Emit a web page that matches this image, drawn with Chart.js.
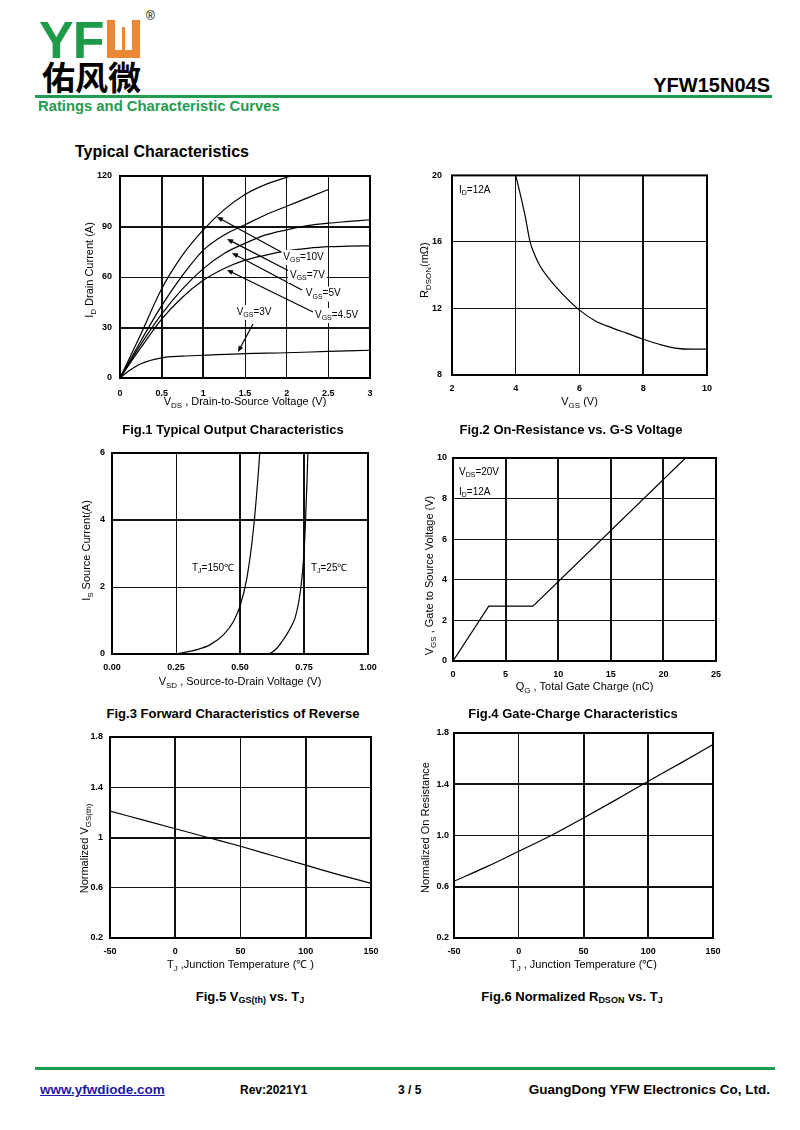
<!DOCTYPE html>
<html>
<head>
<meta charset="utf-8">
<title>YFW15N04S Typical Characteristics</title>
<script src="https://cdn.jsdelivr.net/npm/chart.js@4.4.1/dist/chart.umd.min.js"></script>
<style>
  body { margin:0; width:800px; height:1130px; position:relative; overflow:hidden; background:#fff;
         font-family:"Liberation Sans", Arial, sans-serif; color:#000; }
  .abs { position:absolute; white-space:nowrap; }
  canvas { position:absolute; }
  .cap { position:absolute; font-weight:bold; font-size:13px; line-height:16px; transform:translate(-50%,-50%); white-space:nowrap; }
  .cap sub { font-size:9px; vertical-align:-2px; line-height:0; }
  .foot { position:absolute; top:1082px; font-weight:bold; font-size:13.5px; line-height:16px; white-space:nowrap; }
</style>
</head>
<body>
<!-- header -->
<div class="abs" style="left:39px;top:14px;font-weight:bold;font-size:52px;line-height:52px;color:#1e9a48;letter-spacing:-1px">YF</div>
<div class="abs" style="left:107px;top:20px;width:33px;height:38px;background:#ec8736"></div>
<div class="abs" style="left:115px;top:20px;width:17px;height:30px;background:#fff"></div>
<div class="abs" style="left:122px;top:27px;width:3px;height:23px;background:#ec8736"></div>
<div class="abs" style="left:146px;top:9px;font-size:12px">®</div>
<div class="abs" style="left:42px;top:60px;font-family:'Noto Sans CJK SC';font-weight:bold;font-size:33px;line-height:33px">佑风微</div>
<div class="abs" style="right:30px;top:74px;font-weight:bold;font-size:20px;line-height:22px">YFW15N04S</div>
<div class="abs" style="left:35px;top:95px;width:737px;height:3px;background:#1f9d4f"></div>
<div class="abs" style="left:38px;top:98px;font-weight:bold;font-size:14.8px;line-height:16px;color:#1f9d4f">Ratings and Characteristic Curves</div>
<div class="abs" style="left:75px;top:143px;font-weight:bold;font-size:16px;line-height:18px">Typical Characteristics</div>

<canvas id="c1"></canvas>
<canvas id="c2"></canvas>
<canvas id="c3"></canvas>
<canvas id="c4"></canvas>
<canvas id="c5"></canvas>
<canvas id="c6"></canvas>

<div class="cap" style="left:233px;top:430px">Fig.1 Typical Output Characteristics</div>
<div class="cap" style="left:571px;top:430px">Fig.2 On-Resistance vs. G-S Voltage</div>
<div class="cap" style="left:233px;top:714px">Fig.3 Forward Characteristics of Reverse</div>
<div class="cap" style="left:573px;top:714px">Fig.4 Gate-Charge Characteristics</div>
<div class="cap" style="left:250px;top:997px">Fig.5 V<sub>GS(th)</sub> vs. T<sub>J</sub></div>
<div class="cap" style="left:572px;top:997px">Fig.6 Normalized R<sub>DSON</sub> vs. T<sub>J</sub></div>

<!-- footer -->
<div class="abs" style="left:35px;top:1067px;width:740px;height:3px;background:#1f9d4f"></div>
<div class="foot" style="left:40px;color:#1a1aa6;text-decoration:underline">www.yfwdiode.com</div>
<div class="foot" style="left:240px;font-size:12px">Rev:2021Y1</div>
<div class="foot" style="left:398px;font-size:12px">3 / 5</div>
<div class="foot" style="right:30px">GuangDong YFW Electronics Co, Ltd.</div>

<script>
const FONT = '"Liberation Sans", Arial, sans-serif';
Chart.defaults.font.family = FONT;
Chart.defaults.color = '#000';

// Fig.1 Typical Output Characteristics (ID vs VDS, one curve per VGS)
const fig1XTicks = ['0', '0.5', '1', '1.5', '2', '2.5', '3'];
const fig1YTicks = ['0', '30', '60', '90', '120'];
const vgs10Vds = [0, 0.25, 0.5, 0.75, 1, 1.25, 1.5, 1.75, 2.05];
const vgs10Id  = [0, 26, 53, 73, 88, 100, 109, 115, 120];
const vgs7Vds  = [0, 0.25, 0.5, 0.75, 1, 1.25, 1.5, 1.75, 2, 2.25, 2.5];
const vgs7Id   = [0, 22, 43, 61, 76, 85, 91, 97, 102, 107, 112];
const vgs5Vds  = [0, 0.25, 0.5, 0.75, 1, 1.25, 1.5, 1.75, 2, 2.25, 2.5, 2.75, 3];
const vgs5Id   = [0, 20, 38, 53, 65, 74, 80, 85, 88, 90.5, 92, 93, 94];
const vgs45Vds = [0, 0.25, 0.5, 0.75, 1, 1.25, 1.5, 1.75, 2, 2.25, 2.5, 2.75, 3];
const vgs45Id  = [0, 18, 35, 48, 58, 65, 70, 73, 75.5, 77, 78, 78.3, 78.5];
const vgs3Vds  = [0, 0.1, 0.25, 0.5, 0.75, 1, 1.5, 2, 2.5, 3];
const vgs3Id   = [0, 4, 8.5, 12, 13, 13.5, 14.5, 15, 15.8, 16.5];

// Fig.2 On-Resistance vs. G-S Voltage
const fig2XTicks = ['2', '4', '6', '8', '10'];
const fig2YTicks = ['8', '12', '16', '20'];
const rdsVgs = [4.0, 4.1, 4.2, 4.3, 4.45, 4.6, 4.75, 5, 5.5, 6, 6.5, 7, 7.5, 8, 8.5, 9, 9.5, 10];
const rdsMohm = [20, 19.2, 18.4, 17.5, 16, 15.2, 14.6, 13.9, 12.8, 11.9, 11.25, 10.85, 10.5, 10.15, 9.85, 9.62, 9.55, 9.55];

// Fig.3 Forward Characteristics of Reverse diode
const fig3XTicks = ['0.00', '0.25', '0.50', '0.75', '1.00'];
const fig3YTicks = ['0', '2', '4', '6'];
const tj150Vsd = [0.25, 0.27, 0.332, 0.384, 0.436, 0.475, 0.501, 0.527, 0.553, 0.573, 0.577];
const tj150Is  = [0, 0.03, 0.13, 0.28, 0.58, 0.98, 1.45, 2.27, 3.76, 5.55, 6];
const tj25Vsd  = [0.6, 0.618, 0.645, 0.665, 0.684, 0.7, 0.716, 0.728, 0.738, 0.749, 0.755, 0.762, 0.765];
const tj25Is   = [0, 0.02, 0.18, 0.38, 0.6, 0.82, 1.1, 1.5, 2.0, 2.9, 3.8, 5.2, 6];

// Fig.4 Gate-Charge Characteristics
const fig4XTicks = ['0', '5', '10', '15', '20', '25'];
const fig4YTicks = ['0', '2', '4', '6', '8', '10'];
const gateQ  = [0, 3.4, 7.6, 22.1];
const gateVg = [0, 2.7, 2.7, 10];

// Fig.5 / Fig.6 vs junction temperature
const tempXTicks = ['-50', '0', '50', '100', '150'];
const fig5YTicks = ['0.2', '0.6', '1', '1.4', '1.8'];
const fig6YTicks = ['0.2', '0.6', '1.0', '1.4', '1.8'];
const tjC   = [-50, -25, 0, 25, 50, 75, 100, 125, 150];
const vthN  = [1.21, 1.14, 1.07, 1.0, 0.93, 0.855, 0.78, 0.705, 0.635];
const rdsN  = [0.643, 0.755, 0.877, 1.0, 1.137, 1.278, 1.424, 1.565, 1.71];

function pts(xs, ys) {
  return xs.map((x, i) => ({ x: x, y: ys[i] }));
}

// text with subscripts: parts starting with "_" are subscripts
function drawRich(ctx, parts, x, y, size, align, bg) {
  const segs = parts.map(p => {
    const sub = p[0] === '_';
    const t = sub ? p.slice(1) : p;
    const fs = sub ? Math.round(size * 0.7) : size;
    ctx.font = fs + 'px ' + FONT;
    return { t: t, sub: sub, fs: fs, w: ctx.measureText(t).width };
  });
  const total = segs.reduce((a, s) => a + s.w, 0);
  let cx = align === 'center' ? x - total / 2 : x;
  if (bg) {
    ctx.fillStyle = '#fff';
    ctx.fillRect(cx - 2, y - size * 0.7, total + 4, size * 1.5);
  }
  ctx.fillStyle = '#000';
  ctx.textBaseline = 'middle';
  ctx.textAlign = 'left';
  segs.forEach(s => {
    ctx.font = s.fs + 'px ' + FONT;
    ctx.fillText(s.t, cx, y + (s.sub ? size * 0.3 : 0));
    cx += s.w;
  });
}

function drawArrow(ctx, x1, y1, x2, y2) {
  const a = Math.atan2(y2 - y1, x2 - x1), L = 6, W = 2.5;
  ctx.strokeStyle = '#000';
  ctx.lineWidth = 1.2;
  ctx.beginPath();
  ctx.moveTo(x1, y1);
  ctx.lineTo(x2 - Math.cos(a) * L * 0.8, y2 - Math.sin(a) * L * 0.8);
  ctx.stroke();
  ctx.beginPath();
  ctx.moveTo(x2, y2);
  ctx.lineTo(x2 - L * Math.cos(a) + W * Math.sin(a), y2 - L * Math.sin(a) - W * Math.cos(a));
  ctx.lineTo(x2 - L * Math.cos(a) - W * Math.sin(a), y2 - L * Math.sin(a) + W * Math.cos(a));
  ctx.closePath();
  ctx.fillStyle = '#000';
  ctx.fill();
}

function axis(a, isX) {
  return {
    type: 'linear',
    min: a.min,
    max: a.max,
    border: { display: false },
    grid: {
      drawTicks: false,
      color: '#111',
      lineWidth: c => (c.tick && a.thick.some(t => Math.abs(t - c.tick.value) < 1e-6)) ? 2 : 1
    },
    ticks: {
      stepSize: a.step,
      padding: a.pad,
      autoSkip: false,
      maxRotation: 0,
      color: '#000',
      font: { size: 9, weight: 'bold' },
      callback: (v, i) => a.labels[i]
    },
    afterFit: s => { if (isX) s.height = 50; else s.width = 60; }
  };
}

// one chart: box is the plot area on the page
function plotChart(id, box, cfg) {
  const cv = document.getElementById(id);
  cv.width = box.w + 80;
  cv.height = box.h + 64;
  cv.style.left = (box.x - 60) + 'px';
  cv.style.top = (box.y - 14) + 'px';

  const decor = {
    id: 'decor' + id,
    afterDatasetsDraw(chart) {
      const ctx = chart.ctx, ca = chart.chartArea;
      const sx = chart.scales.x, sy = chart.scales.y;
      ctx.save();
      ctx.strokeStyle = '#000';
      ctx.lineWidth = 2;
      ctx.strokeRect(ca.left, ca.top, ca.right - ca.left, ca.bottom - ca.top);
      (cfg.arrows || []).forEach(r => {
        drawArrow(ctx, sx.getPixelForValue(r[0]), sy.getPixelForValue(r[1]),
                  sx.getPixelForValue(r[2]), sy.getPixelForValue(r[3]));
      });
      (cfg.notes || []).forEach(n => {
        drawRich(ctx, n.parts, sx.getPixelForValue(n.at[0]), sy.getPixelForValue(n.at[1]), 10, 'left', n.bg);
      });
      ctx.restore();
    },
    afterDraw(chart) {
      const ctx = chart.ctx, ca = chart.chartArea;
      ctx.save();
      drawRich(ctx, cfg.xTitle, (ca.left + ca.right) / 2, ca.bottom + cfg.xTitleDy, 11, 'center');
      ctx.translate(ca.left - cfg.yTitleDx, (ca.top + ca.bottom) / 2 + (cfg.yTitleShift || 0));
      ctx.rotate(-Math.PI / 2);
      drawRich(ctx, cfg.yTitle, 0, 0, 11, 'center');
      ctx.restore();
    }
  };

  return new Chart(cv, {
    type: 'line',
    data: {
      datasets: cfg.series.map(s => ({
        data: pts(s[0], s[1]),
        borderColor: '#000',
        borderWidth: 1.2,
        pointRadius: 0,
        fill: false,
        tension: 0,
        cubicInterpolationMode: cfg.straight ? 'default' : 'monotone'
      }))
    },
    options: {
      responsive: false,
      animation: false,
      events: [],
      layout: { padding: { left: 0, top: 14, right: 20, bottom: 0 } },
      plugins: { legend: { display: false }, tooltip: { enabled: false } },
      scales: { x: axis(cfg.x, true), y: axis(cfg.y, false) }
    },
    plugins: [decor]
  });
}

plotChart('c1', { x: 120, y: 176, w: 250, h: 202 }, {
  x: { min: 0, max: 3, step: 0.5, labels: fig1XTicks, thick: [0.5, 1], pad: 10 },
  y: { min: 0, max: 120, step: 30, labels: fig1YTicks, thick: [30, 90], pad: 8 },
  series: [[vgs10Vds, vgs10Id], [vgs7Vds, vgs7Id], [vgs5Vds, vgs5Id], [vgs45Vds, vgs45Id], [vgs3Vds, vgs3Id]],
  xTitle: ['V', '_DS', ' , Drain-to-Source Voltage (V)'], xTitleDy: 24,
  yTitle: ['I', '_D', ' Drain Current (A)'], yTitleDx: 30, yTitleShift: -7,
  arrows: [[1.956, 74.3, 1.164, 95.7], [2.028, 63.6, 1.284, 82.6], [2.184, 52.3, 1.344, 74.3],
           [2.316, 39.2, 1.284, 64.2], [1.596, 32.1, 1.416, 15.4]],
  notes: [
    { at: [1.96, 71.9], parts: ['V', '_GS', '=10V'], bg: true },
    { at: [2.04, 61.2], parts: ['V', '_GS', '=7V'], bg: true },
    { at: [2.23, 50.1], parts: ['V', '_GS', '=5V'], bg: true },
    { at: [2.34, 37.4], parts: ['V', '_GS', '=4.5V'], bg: true },
    { at: [1.40, 39.2], parts: ['V', '_GS', '=3V'], bg: true }
  ]
});

plotChart('c2', { x: 452, y: 174, w: 255, h: 201 }, {
  x: { min: 2, max: 10, step: 2, labels: fig2XTicks, thick: [8], pad: 8 },
  y: { min: 8, max: 20, step: 4, labels: fig2YTicks, thick: [], pad: 10 },
  series: [[rdsVgs, rdsMohm]],
  xTitle: ['V', '_GS', ' (V)'], xTitleDy: 27,
  yTitle: ['R', '_DSON', '(mΩ)'], yTitleDx: 27, yTitleShift: -5,
  notes: [{ at: [2.22, 19.1], parts: ['I', '_D', '=12A'] }]
});

plotChart('c3', { x: 112, y: 453, w: 256, h: 201 }, {
  x: { min: 0, max: 1, step: 0.25, labels: fig3XTicks, thick: [0.5, 0.75], pad: 8 },
  y: { min: 0, max: 6, step: 2, labels: fig3YTicks, thick: [4], pad: 7 },
  series: [[tj150Vsd, tj150Is], [tj25Vsd, tj25Is]],
  xTitle: ['V', '_SD', ' , Source-to-Drain Voltage (V)'], xTitleDy: 28,
  yTitle: ['I', '_S', ' Source Current(A)'], yTitleDx: 25, yTitleShift: -3,
  notes: [
    { at: [0.3125, 2.57], parts: ['T', '_J', '=150℃'], bg: true },
    { at: [0.777, 2.57], parts: ['T', '_J', '=25℃'], bg: true }
  ]
});

plotChart('c4', { x: 453, y: 458, w: 263, h: 203 }, {
  x: { min: 0, max: 25, step: 5, labels: fig4XTicks, thick: [5, 10, 15, 20], pad: 8 },
  y: { min: 0, max: 10, step: 2, labels: fig4YTicks, thick: [], pad: 6 },
  series: [[gateQ, gateVg]], straight: true,
  xTitle: ['Q', '_G', ' , Total Gate Charge (nC)'], xTitleDy: 26,
  yTitle: ['V', '_GS', ' , Gate to Source Voltage (V)'], yTitleDx: 23, yTitleShift: 16,
  notes: [
    { at: [0.57, 9.31], parts: ['V', '_DS', '=20V'] },
    { at: [0.57, 8.33], parts: ['I', '_D', '=12A'] }
  ]
});

plotChart('c5', { x: 110, y: 737, w: 261, h: 201 }, {
  x: { min: -50, max: 150, step: 50, labels: tempXTicks, thick: [0, 100], pad: 8 },
  y: { min: 0.2, max: 1.8, step: 0.4, labels: fig5YTicks, thick: [1], pad: 7 },
  series: [[tjC, vthN]],
  xTitle: ['T', '_J', ' ,Junction Temperature (℃ )'], xTitleDy: 27,
  yTitle: ['Normalized V', '_GS(th)'], yTitleDx: 25, yTitleShift: 11
});

plotChart('c6', { x: 454, y: 733, w: 259, h: 205 }, {
  x: { min: -50, max: 150, step: 50, labels: tempXTicks, thick: [50, 100], pad: 8 },
  y: { min: 0.2, max: 1.8, step: 0.4, labels: fig6YTicks, thick: [0.6, 1.4], pad: 5 },
  series: [[tjC, rdsN]],
  xTitle: ['T', '_J', ' , Junction Temperature (℃)'], xTitleDy: 27,
  yTitle: ['Normalized On Resistance'], yTitleDx: 28, yTitleShift: -8
});
</script>
</body>
</html>
